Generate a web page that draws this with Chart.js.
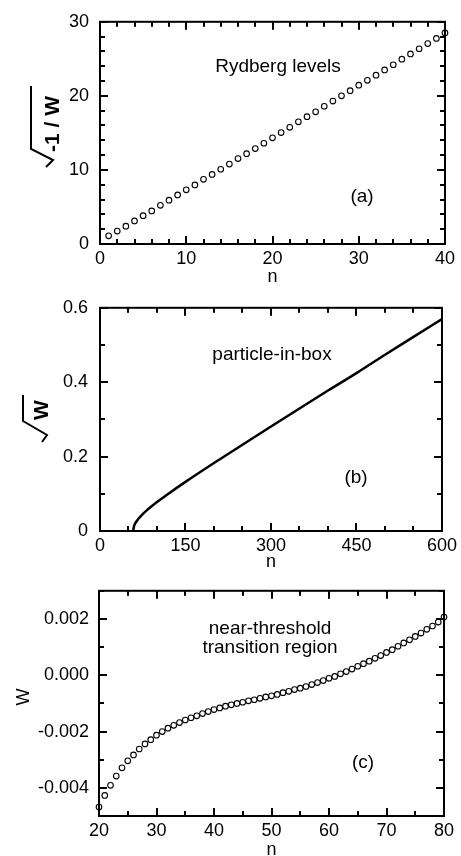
<!DOCTYPE html>
<html>
<head>
<meta charset="utf-8">
<script src="https://cdn.jsdelivr.net/npm/chart.js@4/dist/chart.umd.min.js"></script>
<style>
  body { margin: 0; background: #fff; }
  #wrap { position: relative; width: 461px; height: 856px; }
  canvas { position: absolute; left: 0; }
</style>
</head>
<body>
<div id="wrap">
  <canvas id="chartA" width="461" height="285" style="top:0px"></canvas>
  <canvas id="chartB" width="461" height="285" style="top:285px"></canvas>
  <canvas id="chartC" width="461" height="286" style="top:570px"></canvas>
</div>
<script>
// panel (a) Rydberg levels: sqrt(-1/W) vs n
const rydN = [1,2,3,4,5,6,7,8,9,10,11,12,13,14,15,16,17,18,19,20,
              21,22,23,24,25,26,27,28,29,30,31,32,33,34,35,36,37,38,39,40];
const rydY = [1.10,1.75,2.41,3.11,3.82,4.47,5.22,5.92,6.62,7.32,
              7.98,8.73,9.39,10.09,10.79,11.54,12.19,12.89,13.60,14.34,
              15.04,15.75,16.49,17.19,17.85,18.60,19.30,20.00,20.70,21.45,
              22.10,22.80,23.50,24.20,24.96,25.66,26.36,27.06,27.76,28.50];
const aXTicks = [0, 10, 20, 30, 40];
const aYTicks = [0, 10, 20, 30];

// panel (b) particle-in-box: sqrt(W) vs n
const boxN = [58,60,63,67,72,80,90,100,120,150,200,250,300,350,400,450,500,550,600];
const boxY = [0,0.0147,0.0235,0.032,0.0407,0.0526,0.0657,0.0777,0.1002,0.132,
              0.1826,0.232,0.2808,0.3293,0.3776,0.4245,0.4738,0.5218,0.570];
const bXTicks = [0, 150, 300, 450, 600];
const bYTicks = [0, 0.2, 0.4, 0.6];

// panel (c) near-threshold transition region: W vs n
const trN = [20,21,22,23,24,25,26,27,28,29,30,31,32,33,34,35,36,37,38,39,
             40,41,42,43,44,45,46,47,48,49,50,51,52,53,54,55,56,57,58,59,
             60,61,62,63,64,65,66,67,68,69,70,71,72,73,74,75,76,77,78,79,80];
const trW = [-0.00468,-0.00427,-0.00391,-0.00358,-0.00329,-0.00304,-0.00283,-0.00262,-0.00244,-0.00229,
             -0.00213,-0.00200,-0.00188,-0.00178,-0.00168,-0.00159,-0.00151,-0.00144,-0.00136,-0.00129,
             -0.00122,-0.00116,-0.00110,-0.00105,-0.00100,-0.00096,-0.00091,-0.00087,-0.00082,-0.00077,
             -0.00073,-0.00068,-0.00062,-0.00057,-0.00051,-0.00046,-0.00040,-0.00033,-0.00026,-0.00019,
             -0.00011,-0.00004,0.00005,0.00013,0.00022,0.00032,0.00041,0.00050,0.00060,0.00070,
             0.00081,0.00091,0.00103,0.00115,0.00126,0.00138,0.00150,0.00163,0.00175,0.00189,0.00207];
const cXTicks = [20, 30, 40, 50, 60, 70, 80];
const cYTicks = [-0.004, -0.002, 0, 0.002];

const FONT = "'Liberation Sans', Arial, Helvetica, sans-serif";

// frame around plot area with inward major/minor ticks on all four sides
function frameTicks(xMajors, xMinorStep, yMajors, yMinorStep) {
  return {
    id: 'frameTicks',
    afterDraw(chart) {
      const ctx = chart.ctx;
      const a = chart.chartArea;
      const sx = chart.scales.x, sy = chart.scales.y;
      const steps = (s, step) => {
        const out = [];
        const n = Math.round((s.max - s.min) / step);
        for (let k = 0; k <= n; k++) out.push(s.min + k * step);
        return out;
      };
      const w = 2;
      ctx.save();
      ctx.fillStyle = '#000';
      const tickX = (v, len) => {
        const px = Math.round(sx.getPixelForValue(v));
        ctx.fillRect(px - 1, a.bottom - len, w, len);
        ctx.fillRect(px - 1, a.top, w, len);
      };
      const tickY = (v, len) => {
        const py = Math.round(sy.getPixelForValue(v));
        ctx.fillRect(a.left, py - 1, len, w);
        ctx.fillRect(a.right - len, py - 1, len, w);
      };
      steps(sx, xMinorStep).forEach(v => tickX(v, 5));
      xMajors.forEach(v => tickX(v, 8));
      steps(sy, yMinorStep).forEach(v => tickY(v, 5));
      yMajors.forEach(v => tickY(v, 8));
      ctx.strokeStyle = '#000';
      ctx.lineWidth = 2;
      ctx.strokeRect(a.left, a.top, a.right - a.left, a.bottom - a.top);
      ctx.restore();
    }
  };
}

// free text inside the panel plus the rotated y title
function panelText(items, yTitle) {
  return {
    id: 'panelText',
    afterDraw(chart) {
      const ctx = chart.ctx;
      ctx.save();
      ctx.fillStyle = '#000';
      ctx.strokeStyle = '#000';
      ctx.textAlign = 'center';
      ctx.textBaseline = 'middle';
      items.forEach(t => {
        ctx.font = t.font;
        ctx.fillText(t.text, t.x, t.y);
      });
      yTitle(ctx);
      ctx.restore();
    }
  };
}

function scales(xr, xTicks, yr, yTicks, fmtY, cfg) {
  const tickFont = { family: FONT, size: 18 };
  return {
    x: {
      type: 'linear', min: xr[0], max: xr[1],
      afterBuildTicks: s => { s.ticks = xTicks.map(v => ({ value: v })); },
      ticks: { font: tickFont, color: '#000', padding: 4, maxRotation: 0 },
      grid: { display: false, drawTicks: false },
      border: { display: false },
      title: { display: true, text: 'n', color: '#000',
               font: { family: FONT, size: 18, lineHeight: 1 },
               padding: { top: 0, bottom: cfg.nPad } },
      afterFit: s => { s.height = cfg.h - cfg.bottom; }
    },
    y: {
      type: 'linear', min: yr[0], max: yr[1],
      afterBuildTicks: s => { s.ticks = yTicks.map(v => ({ value: v })); },
      ticks: { font: tickFont, color: '#000', padding: cfg.yPad, callback: fmtY },
      grid: { display: false, drawTicks: false },
      border: { display: false },
      afterFit: s => { s.width = cfg.left; }
    }
  };
}

function baseOptions(sc, pad) {
  return {
    responsive: false,
    animation: false,
    layout: { padding: pad },
    plugins: { legend: { display: false }, tooltip: { enabled: false } },
    scales: sc
  };
}

const pointStyle = {
  showLine: false, pointStyle: 'circle', pointRadius: 2.8, pointBorderWidth: 1.1,
  pointBackgroundColor: '#fff', pointBorderColor: '#000', clip: false
};

// (a)
new Chart(document.getElementById('chartA'), {
  type: 'scatter',
  data: { datasets: [Object.assign({ data: rydN.map((n, i) => ({ x: n, y: rydY[i] })) }, pointStyle)] },
  options: baseOptions(
    scales([0, 40], aXTicks, [0, 30], aYTicks, v => String(v),
           { h: 285, bottom: 244, left: 100, yPad: 11, nPad: -1 }),
    { left: 0, top: 16, right: 16, bottom: 0 }),
  plugins: [frameTicks(aXTicks, 2, aYTicks, 2), panelText([
    { text: 'Rydberg levels', x: 278, y: 67, font: '19px ' + FONT },
    { text: '(a)', x: 362, y: 197, font: '19px ' + FONT }
  ], ctx => {
    ctx.save();
    ctx.translate(59, 152);
    ctx.rotate(-Math.PI / 2);
    ctx.font = 'bold 21px ' + FONT;
    ctx.textAlign = 'left';
    ctx.textBaseline = 'alphabetic';
    ctx.fillText('-1 / W', 0, 0);
    ctx.restore();
    ctx.lineWidth = 2;
    ctx.beginPath();
    ctx.moveTo(31, 86); ctx.lineTo(31, 149); ctx.lineTo(53, 160); ctx.lineTo(46, 167);
    ctx.stroke();
  })]
});

// (b)
new Chart(document.getElementById('chartB'), {
  type: 'scatter',
  data: { datasets: [{
    data: boxN.map((n, i) => ({ x: n, y: boxY[i] })),
    showLine: true, borderColor: '#000', borderWidth: 2.5, pointRadius: 0,
    tension: 0.3, cubicInterpolationMode: 'monotone'
  }] },
  options: baseOptions(
    scales([0, 600], bXTicks, [0, 0.6], bYTicks, v => v === 0 ? '0' : v.toFixed(1),
           { h: 285, bottom: 246, left: 100, yPad: 12, nPad: -1 }),
    { left: 0, top: 19, right: 17, bottom: 0 }),
  plugins: [frameTicks(bXTicks, 50, bYTicks, 0.1), panelText([
    { text: 'particle-in-box', x: 272, y: 70, font: '19px ' + FONT },
    { text: '(b)', x: 356, y: 193, font: '19px ' + FONT }
  ], ctx => {
    ctx.save();
    ctx.translate(48, 135);
    ctx.rotate(-Math.PI / 2);
    ctx.font = 'bold 21px ' + FONT;
    ctx.textAlign = 'left';
    ctx.textBaseline = 'alphabetic';
    ctx.fillText('W', 0, 0);
    ctx.restore();
    ctx.lineWidth = 2;
    ctx.beginPath();
    ctx.moveTo(23, 110); ctx.lineTo(23, 136); ctx.lineTo(47, 150); ctx.lineTo(42, 157);
    ctx.stroke();
  })]
});

// (c)
new Chart(document.getElementById('chartC'), {
  type: 'scatter',
  data: { datasets: [Object.assign({ data: trN.map((n, i) => ({ x: n, y: trW[i] })) }, pointStyle)] },
  options: baseOptions(
    scales([20, 80], cXTicks, [-0.005, 0.003], cYTicks, v => v.toFixed(3),
           { h: 286, bottom: 246, left: 99, yPad: 10, nPad: -3 }),
    { left: 0, top: 18, right: 17, bottom: 0 }),
  plugins: [frameTicks(cXTicks, 5, cYTicks, 0.001), panelText([
    { text: 'near-threshold', x: 270, y: 59, font: '19px ' + FONT },
    { text: 'transition region', x: 270, y: 78, font: '19px ' + FONT },
    { text: '(c)', x: 363, y: 193, font: '19px ' + FONT }
  ], ctx => {
    ctx.save();
    ctx.translate(24, 127);
    ctx.rotate(-Math.PI / 2);
    ctx.font = '18px ' + FONT;
    ctx.fillText('W', 0, 0);
    ctx.restore();
  })]
});
</script>
</body>
</html>
